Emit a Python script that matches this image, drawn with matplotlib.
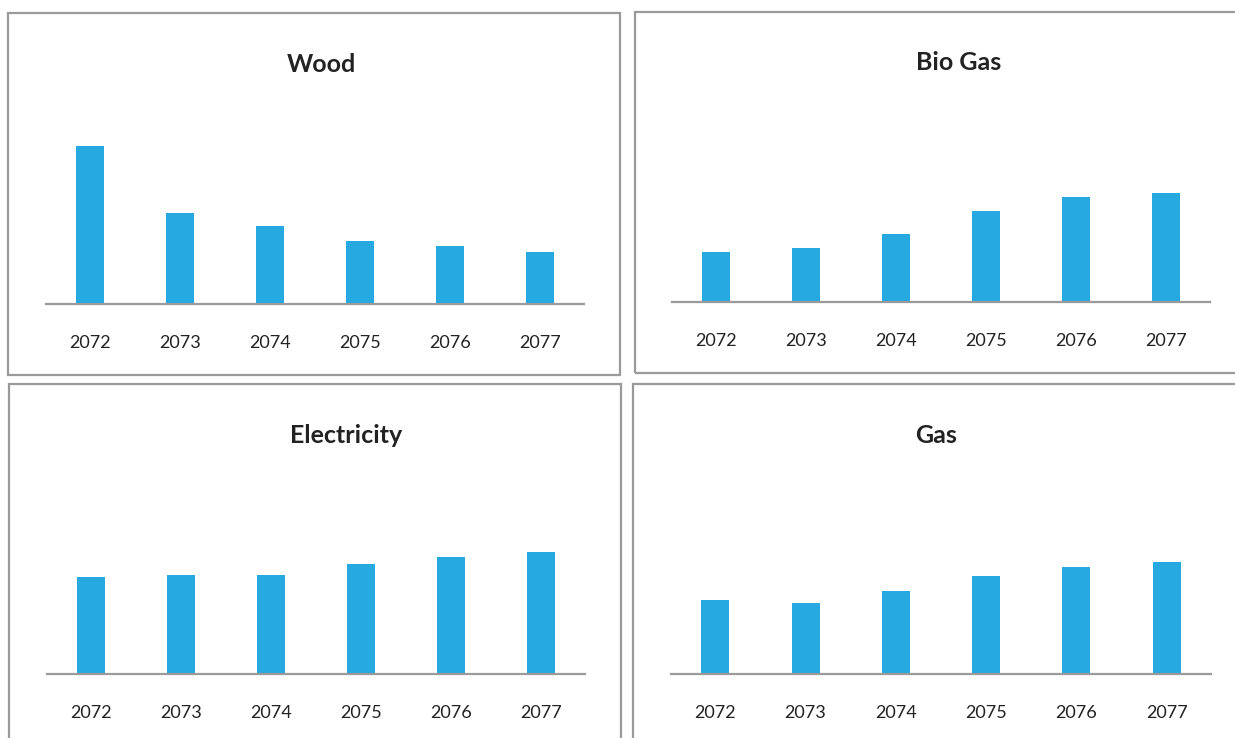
import matplotlib.pyplot as plt
from matplotlib.patches import Rectangle

years = ['2072', '2073', '2074', '2075', '2076', '2077']
wood = [158, 91, 78, 63, 58, 52]
bio_gas = [50, 54, 68, 91, 105, 109]
electricity = [97, 99, 99, 110, 117, 122]
gas = [74, 71, 83, 98, 107, 112]

W, H = 1235, 738
bar_color = '#25A9E0'
line_color = '#9a9a9a'

plt.rcParams['font.family'] = ['Lato', 'DejaVu Sans']

fig = plt.figure(figsize=(W / 100, H / 100), dpi=100)

# (title, values, panel box l,t,r,b, axis left, axis right, baseline y, title x, title y)
panels = [
    ('Wood', wood, (8, 13, 620, 375), 46, 584, 304, 321, 64),
    ('Bio Gas', bio_gas, (635, 12, 1240, 373), 672, 1210, 302, 959, 63),
    ('Electricity', electricity, (9, 384, 621, 745), 47, 585, 674, 346, 435),
    ('Gas', gas, (633, 384, 1240, 745), 671, 1211, 674, 936, 435),
]

for title, vals, box, ax_l, ax_r, base, tx, ty in panels:
    l, t, r, b = box
    fig.patches.append(Rectangle((l / W, 1 - b / H), (r - l) / W, (b - t) / H,
                                 transform=fig.transFigure, fill=False,
                                 edgecolor=line_color, linewidth=1.6))
    ax = fig.add_axes([ax_l / W, 1 - base / H, (ax_r - ax_l) / W, 200 / H])
    pos = list(range(len(years)))
    ax.bar(pos, vals, width=0.31, color=bar_color)
    ax.set_xlim(-0.49, 5.49)
    ax.set_ylim(0, 200)
    ax.set_xticks(pos)
    ax.set_xticklabels(years, fontsize=13, color='#222222')
    ax.tick_params(axis='x', length=0, pad=22)
    ax.set_yticks([])
    for s in ['top', 'left', 'right']:
        ax.spines[s].set_visible(False)
    ax.spines['bottom'].set_color(line_color)
    ax.spines['bottom'].set_linewidth(1.6)
    ax.patch.set_alpha(0)
    fig.text(tx / W, 1 - ty / H, title, ha='center', va='center',
             fontsize=18, fontweight='bold', color='#222222')

fig.savefig('out.png', dpi=100)
